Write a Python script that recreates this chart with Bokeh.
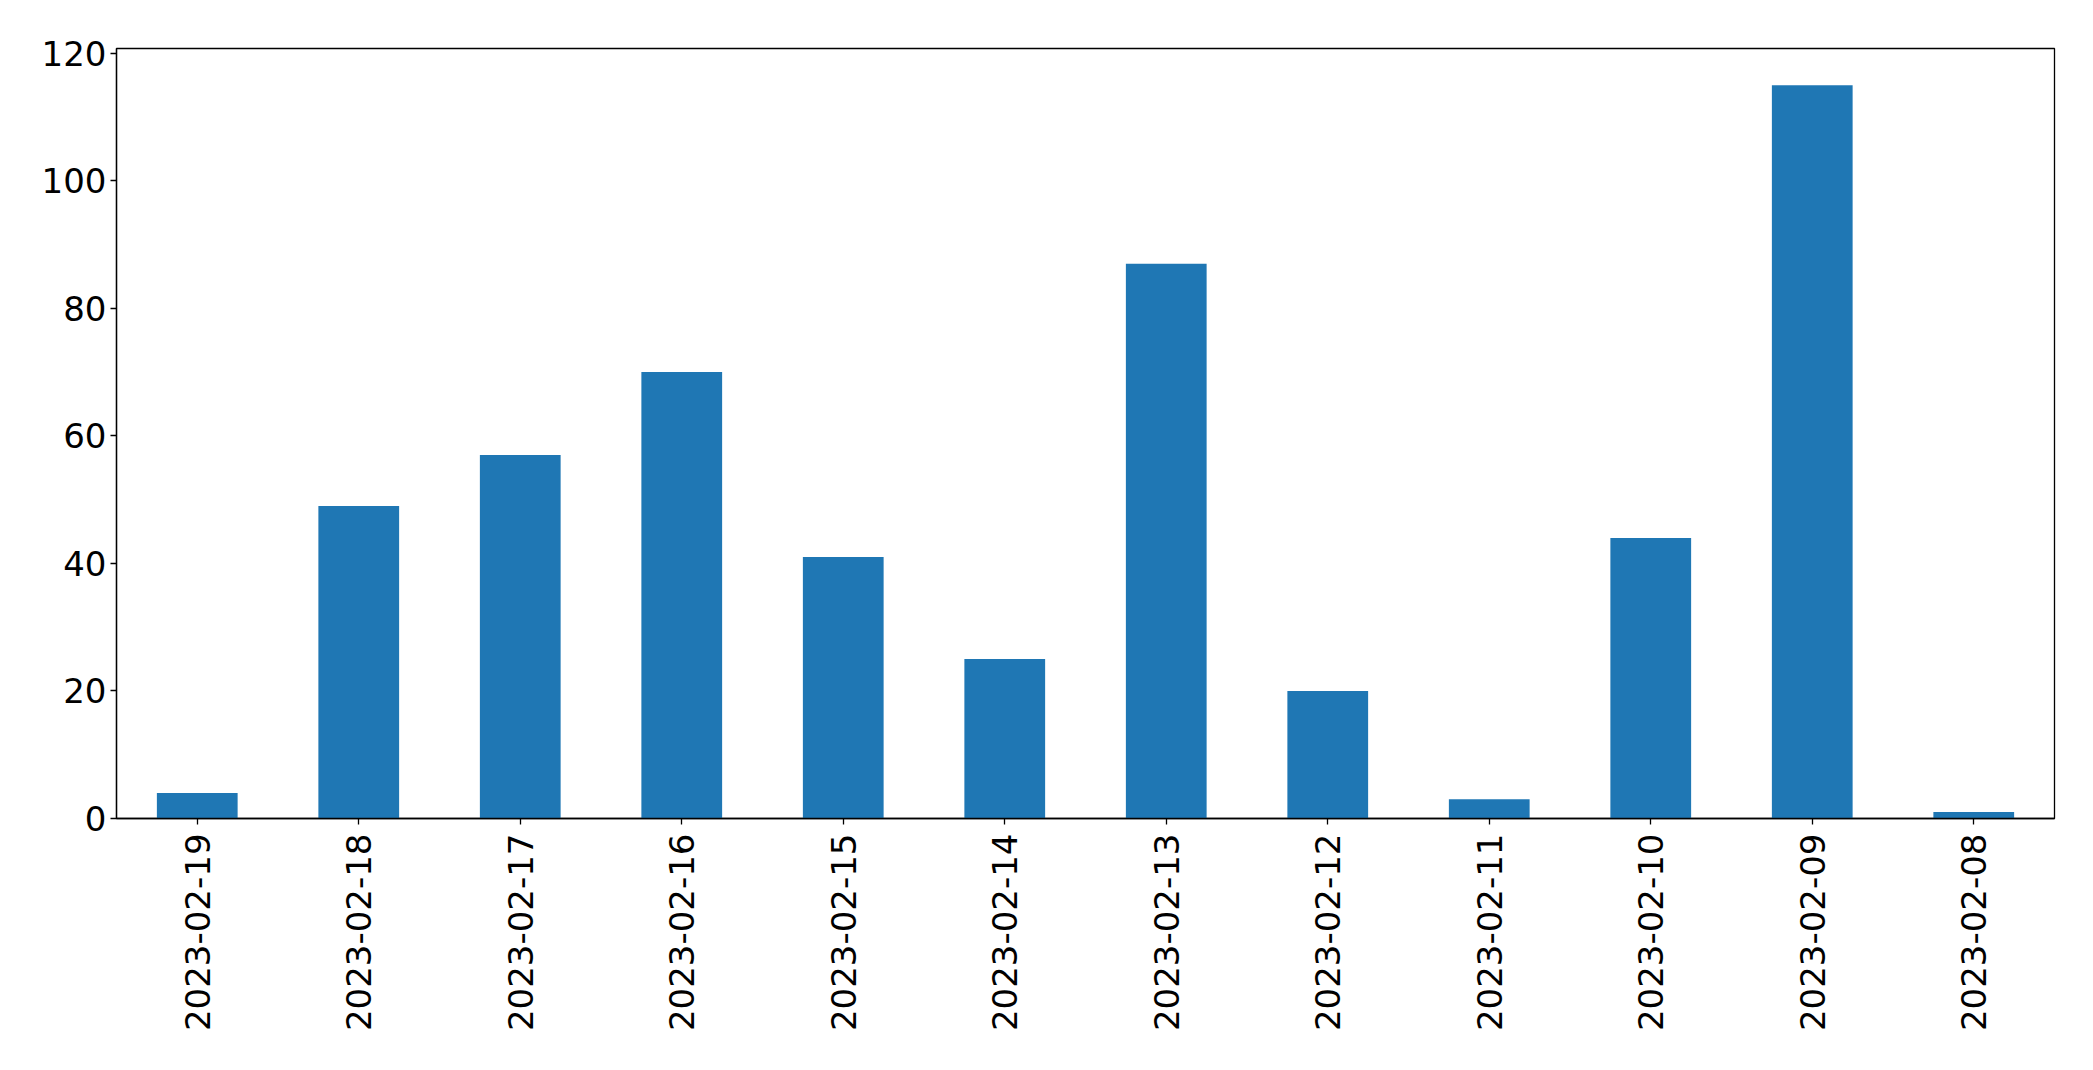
import math
from bokeh.plotting import figure
from bokeh.models import FactorRange, Range1d, FixedTicker, ColumnDataSource
from bokeh.embed import file_html
from bokeh.resources import INLINE

dates = ["2023-02-19", "2023-02-18", "2023-02-17", "2023-02-16", "2023-02-15", "2023-02-14",
         "2023-02-13", "2023-02-12", "2023-02-11", "2023-02-10", "2023-02-09", "2023-02-08"]
counts = [4, 49, 57, 70, 41, 25, 87, 20, 3, 44, 115, 1]
y_ticks = [0, 20, 40, 60, 80, 100, 120]

src = ColumnDataSource(dict(x=dates, top=counts))

p = figure(x_range=FactorRange(*dates, range_padding=0), y_range=Range1d(0, max(counts) * 1.05),
           width=2085, height=1058, output_backend="svg", toolbar_location=None,
           min_border_left=116, min_border_right=31, min_border_top=48, min_border_bottom=240)

p.vbar(x="x", top="top", width=0.5, source=src, color="#1f77b4", line_color=None)

p.xgrid.visible = False
p.ygrid.visible = False
p.outline_line_color = "black"
p.outline_line_width = 1.3
p.outline_line_alpha = 1

for ax in (p.xaxis[0], p.yaxis[0]):
    ax.axis_line_color = "black"
    ax.axis_line_width = 1.3
    ax.major_tick_line_color = "black"
    ax.major_tick_line_width = 1.3
    ax.major_tick_out = 6
    ax.major_tick_in = 0
    ax.minor_tick_line_color = None
    ax.major_label_text_font = "DejaVu Sans"
    ax.major_label_text_font_size = "34px"
    ax.major_label_text_color = "black"

p.yaxis.ticker = FixedTicker(ticks=y_ticks)
p.yaxis.major_label_standoff = 4
p.xaxis.major_label_orientation = math.pi / 2
p.xaxis.major_label_standoff = 9

open("out.html", "w").write(file_html(p, INLINE))
